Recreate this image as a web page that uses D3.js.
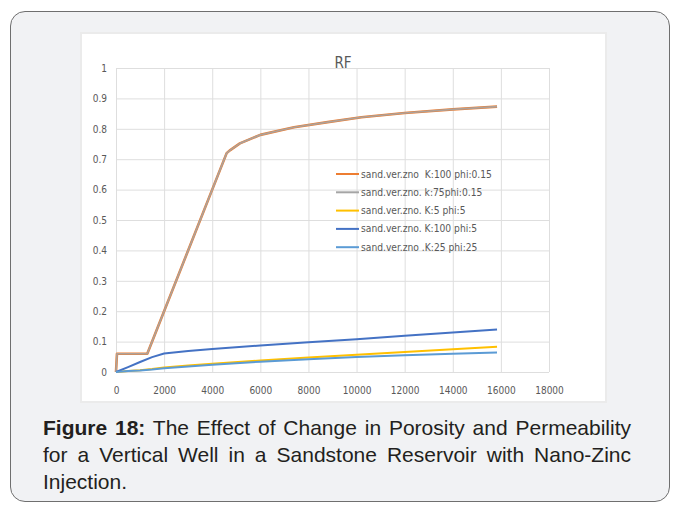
<!DOCTYPE html>
<html>
<head>
<meta charset="utf-8">
<script src="https://cdn.jsdelivr.net/npm/d3@7"></script>
<style>
  body { margin: 0; background: #fff; }
  #wrap { position: relative; width: 674px; height: 505px; overflow: hidden; }
  #card {
    position: absolute; left: 10px; top: 11px; width: 658px; height: 489px;
    background: #f1f2f4; border: 1.5px solid #6f6f6f; border-radius: 15px;
  }
  #plot { position: absolute; left: 0; top: 0; }
  #caption {
    position: absolute; left: 43px; top: 414px; width: 588px;
    font-family: "Liberation Sans", Arial, sans-serif; font-size: 21px;
    line-height: 27px; color: #231f20;
  }
  #caption .j { text-align: justify; text-align-last: justify; white-space: nowrap; }
  #caption b { font-weight: bold; }
</style>
</head>
<body>
<div id="wrap">
  <div id="card"></div>
  <div id="plot"></div>
  <div id="caption">
    <div class="j"><b>Figure 18:</b> The Effect of Change in Porosity and Permeability</div>
    <div class="j">for a Vertical Well in a Sandstone Reservoir with Nano-Zinc</div>
    <div>Injection.</div>
  </div>
</div>
<script>
// RF vs time
const xTicks = [0, 2000, 4000, 6000, 8000, 10000, 12000, 14000, 16000, 18000];
const yTicks = [0, 0.1, 0.2, 0.3, 0.4, 0.5, 0.6, 0.7, 0.8, 0.9, 1];

const mainX = [0, 40, 1300, 4600, 4750, 5150, 6000, 7400, 8800, 10200, 12000, 14000, 15840];
const rfK100Phi015 = [0, 0.06, 0.06, 0.72, 0.73, 0.752, 0.78, 0.805, 0.822, 0.838, 0.852, 0.864, 0.873];
const rfK75Phi015 = [0, 0.06, 0.06, 0.72, 0.73, 0.752, 0.78, 0.805, 0.822, 0.838, 0.852, 0.864, 0.873];

const lowX = [0, 500, 1000, 1500, 2000, 3000, 4000, 6000, 8000, 10000, 12000, 14000, 15840];
const rfK5Phi5 = [0, 0.003, 0.006, 0.01, 0.015, 0.021, 0.027, 0.038, 0.048, 0.057, 0.066, 0.075, 0.083];
const rfK100Phi5 = [0, 0.016, 0.033, 0.049, 0.061, 0.069, 0.076, 0.087, 0.098, 0.108, 0.119, 0.13, 0.14];
const rfK25Phi25 = [0, 0.003, 0.005, 0.008, 0.012, 0.018, 0.024, 0.034, 0.042, 0.049, 0.055, 0.06, 0.064];

const seriesNames = [
  'sand.ver.zno  K:100 phi:0.15',
  'sand.ver.zno. k:75phi:0.15',
  'sand.ver.zno. K:5 phi:5',
  'sand.ver.zno. K:100 phi:5',
  'sand.ver.zno .K:25 phi:25'
];
const seriesColors = ['#ED7D31', '#A5A5A5', '#FFC000', '#4472C4', '#5B9BD5'];

const series = [
  { xs: mainX, ys: rfK100Phi015, width: 2.6, opacity: 1 },
  { xs: mainX, ys: rfK75Phi015, width: 1.7, opacity: 0.9 },
  { xs: lowX, ys: rfK5Phi5, width: 2, opacity: 1 },
  { xs: lowX, ys: rfK100Phi5, width: 2, opacity: 1 },
  { xs: lowX, ys: rfK25Phi25, width: 2, opacity: 1 }
];

const W = 674, H = 505;
const svg = d3.select('#plot').append('svg').attr('width', W).attr('height', H);

const tickFont = '"DejaVu Sans Condensed", "Liberation Sans Narrow", sans-serif';

// chart picture background
svg.append('rect')
  .attr('x', 81).attr('y', 33).attr('width', 525).attr('height', 369)
  .attr('fill', '#fff').attr('stroke', '#ebebeb').attr('stroke-width', 2);

const x = d3.scaleLinear().domain([0, 18000]).range([116, 549]);
const y = d3.scaleLinear().domain([0, 1]).range([372, 68]);

const yAxis = d3.axisLeft(y).tickValues(yTicks).tickSize(-(549 - 116)).tickPadding(9)
  .tickFormat(d => String(+d.toFixed(1)));
const xAxis = d3.axisBottom(x).tickValues(xTicks).tickSize(-(372 - 68)).tickPadding(15)
  .tickFormat(d => String(d));

const gy = svg.append('g').attr('transform', 'translate(116,0)').call(yAxis);
const gx = svg.append('g').attr('transform', 'translate(0,372)').call(xAxis);
[gx, gy].forEach(g => {
  g.select('.domain').remove();
  g.selectAll('line').attr('stroke', '#dedede').attr('stroke-width', 1);
  g.selectAll('text').attr('fill', '#595959').style('font-family', tickFont).style('font-size', '10px');
});

// title
svg.append('text')
  .attr('x', 343).attr('y', 68)
  .attr('text-anchor', 'middle')
  .attr('fill', '#595959')
  .style('font-family', tickFont)
  .style('font-size', '15px')
  .text('RF');

// series lines
const line = d3.line().x(d => x(d[0])).y(d => y(d[1]));
series.forEach((s, i) => {
  svg.append('path')
    .datum(s.xs.map((v, k) => [v, s.ys[k]]))
    .attr('fill', 'none')
    .attr('stroke', seriesColors[i])
    .attr('stroke-width', s.width)
    .attr('stroke-opacity', s.opacity)
    .attr('stroke-linejoin', 'round')
    .attr('d', line);
});

// legend
const legend = svg.append('g').attr('transform', 'translate(336,174)');
seriesNames.forEach((name, i) => {
  const row = legend.append('g').attr('transform', `translate(0,${i * 18.3})`);
  row.append('line').attr('x1', 0).attr('x2', 23).attr('y1', 0).attr('y2', 0)
    .attr('stroke', seriesColors[i]).attr('stroke-width', 2);
  row.append('text').attr('x', 25).attr('y', 0).attr('dy', '0.35em')
    .attr('fill', '#595959')
    .style('font-family', tickFont).style('font-size', '10.2px')
    .style('white-space', 'pre')
    .text(name);
});
</script>
</body>
</html>
